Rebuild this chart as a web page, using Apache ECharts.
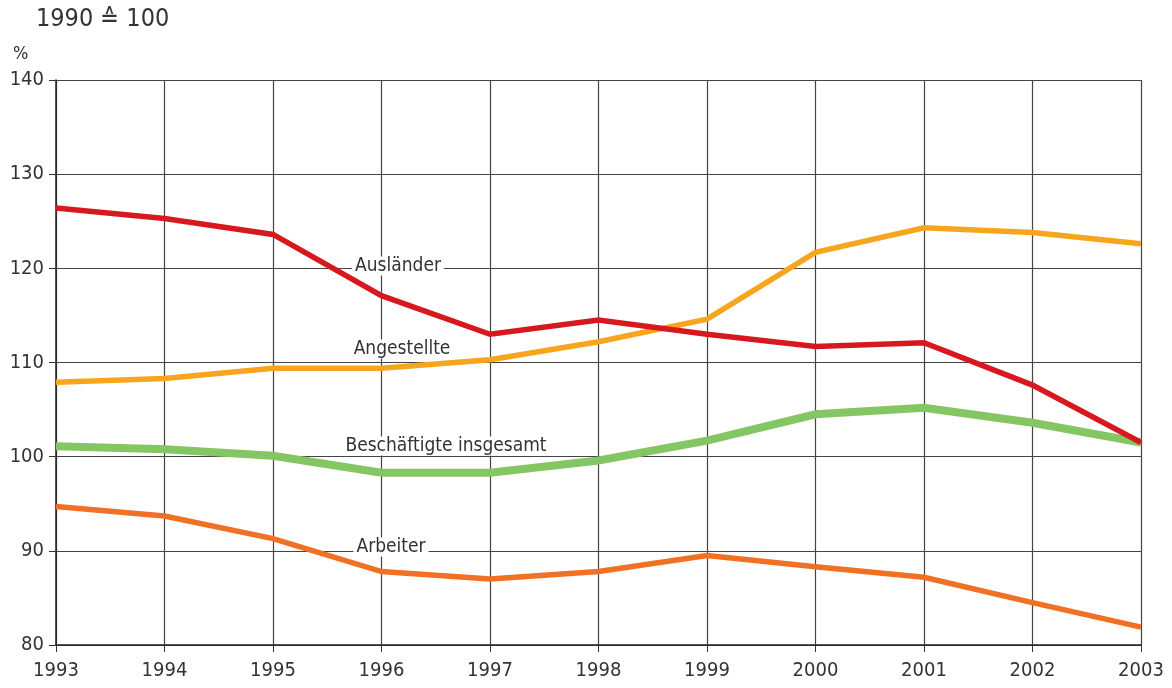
<!DOCTYPE html>
<html>
<head>
<meta charset="utf-8">
<script src="https://cdn.jsdelivr.net/npm/echarts@6/dist/echarts.min.js"></script>
<style>
  html, body { margin: 0; padding: 0; background: #fff; }
  #main { width: 1172px; height: 688px; }
</style>
</head>
<body>
<div id="main"></div>
<script>
// Jahre
var years = ['1993', '1994', '1995', '1996', '1997', '1998', '1999', '2000', '2001', '2002', '2003']
// Indexwerte, 1990 = 100
var auslaender = [126.4, 125.3, 123.6, 117.1, 113.0, 114.5, 113.0, 111.7, 112.1, 107.6, 101.5]
var angestellte = [107.9, 108.3, 109.4, 109.4, 110.3, 112.2, 114.6, 121.7, 124.3, 123.8, 122.6]
var beschaeftigte = [101.1, 100.8, 100.1, 98.3, 98.3, 99.6, 101.7, 104.5, 105.2, 103.6, 101.5]
var arbeiter = [94.7, 93.7, 91.3, 87.8, 87.0, 87.8, 89.5, 88.3, 87.2, 84.5, 81.9]
var yTicks = [80, 90, 100, 110, 120, 130, 140]

var FONT = '"Liberation Sans Narrow", "DejaVu Sans Condensed", "Roboto", sans-serif'
var TXT = '#333'

var chart = echarts.init(document.getElementById('main'))

function seriesLine(name, data, color, width) {
  return {
    name: name,
    type: 'line',
    data: data,
    symbol: 'none',
    lineStyle: { color: color, width: width, cap: 'butt', join: 'miter' },
    itemStyle: { color: color },
    animation: false
  }
}

function label(text, x, y) {
  return {
    type: 'text',
    x: x,
    y: y,
    z: 100,
    style: {
      text: text,
      font: '19px ' + FONT,
      fill: TXT,
      align: 'center',
      verticalAlign: 'middle',
      backgroundColor: '#fff',
      padding: [0, 3]
    }
  }
}

var option = {
  backgroundColor: '#fff',
  animation: false,
  grid: { left: 56, right: 31, top: 80, bottom: 43 },
  xAxis: {
    type: 'category',
    data: years,
    boundaryGap: false,
    axisLine: { show: true, lineStyle: { color: '#222', width: 1.5 } },
    axisTick: { show: true, length: 7, inside: false, lineStyle: { color: '#333' } },
    axisLabel: { color: TXT, fontFamily: FONT, fontSize: 20, margin: 16 },
    splitLine: { show: true, lineStyle: { color: '#444', width: 1.2 } }
  },
  yAxis: {
    type: 'value',
    min: yTicks[0],
    max: yTicks[yTicks.length - 1],
    interval: 10,
    axisLine: { show: true, lineStyle: { color: '#222', width: 1.5 } },
    axisTick: { show: true, length: 7, lineStyle: { color: '#333' } },
    axisLabel: { color: TXT, fontFamily: FONT, fontSize: 20, margin: 12 },
    splitLine: { show: true, lineStyle: { color: '#444', width: 1.2 } }
  },
  graphic: [
    {
      type: 'text', left: 36, top: 7,
      style: { text: '1990 \u2259 100', font: '25px ' + FONT, fill: TXT }
    },
    {
      type: 'text', left: 13, top: 45,
      style: { text: '%', font: '18px ' + FONT, fill: TXT }
    },
    label('Ausländer', 398, 266),
    label('Angestellte', 402, 349),
    label('Beschäftigte insgesamt', 446, 446),
    label('Arbeiter', 391, 547)
  ],
  series: [
    seriesLine('Beschäftigte insgesamt', beschaeftigte, '#84c564', 8),
    seriesLine('Angestellte', angestellte, '#f8a51e', 5.5),
    seriesLine('Arbeiter', arbeiter, '#f07024', 5.5),
    seriesLine('Ausländer', auslaender, '#d7191f', 5.5)
  ]
}

chart.setOption(option)
</script>
</body>
</html>
